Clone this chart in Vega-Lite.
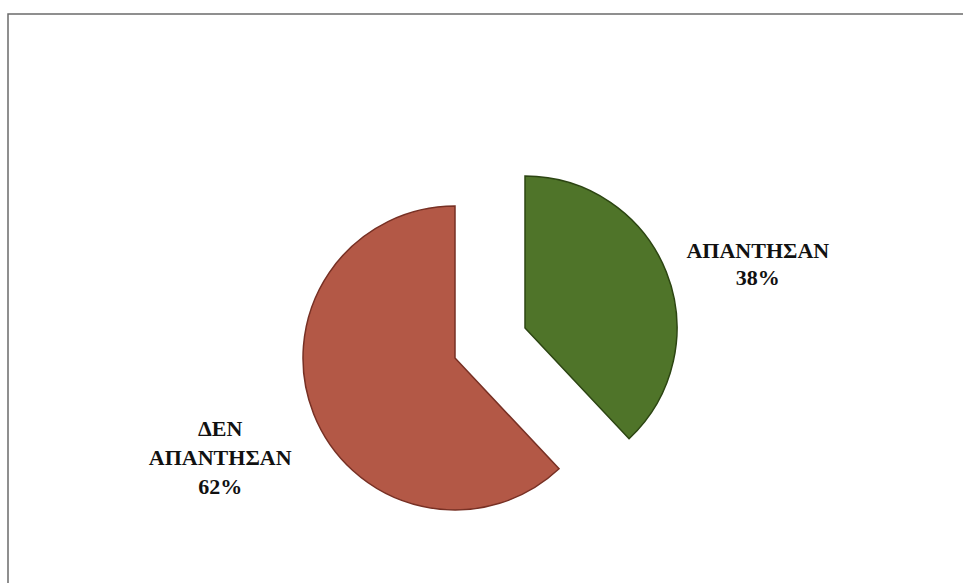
{
  "$schema": "https://vega.github.io/schema/vega-lite/v6.json",
  "autosize": {"type": "none"},
  "width": 964,
  "height": 658,
  "padding": {"left": 8, "top": 14, "right": 0, "bottom": 0},
  "background": "#ffffff",
  "view": {"stroke": "#6b6b6b", "strokeWidth": 1.5},
  "data": {
    "values": [
      {"cat": "ΑΠΑΝΤΗΣΑΝ", "pct": 38, "label": "ΑΠΑΝΤΗΣΑΝ\n38%"},
      {"cat": "ΔΕΝ ΑΠΑΝΤΗΣΑΝ", "pct": 62, "label": "ΔΕΝ\nΑΠΑΝΤΗΣΑΝ\n62%"}
    ]
  },
  "encoding": {
    "theta": {"field": "pct", "type": "quantitative", "stack": true},
    "order": {"field": "pct", "type": "quantitative", "sort": "ascending"}
  },
  "layer": [
    {
      "mark": {"type": "arc", "outerRadius": 152, "fill": "#4f7429", "stroke": "#2c4512", "strokeWidth": 1.5, "xOffset": 35, "yOffset": -15},
      "encoding": {
        "opacity": {"condition": {"test": "datum.cat === 'ΑΠΑΝΤΗΣΑΝ'", "value": 1}, "value": 0}
      }
    },
    {
      "mark": {"type": "arc", "outerRadius": 152, "fill": "#b35846", "stroke": "#773024", "strokeWidth": 1.5, "xOffset": -35, "yOffset": 15},
      "encoding": {
        "opacity": {"condition": {"test": "datum.cat === 'ΔΕΝ ΑΠΑΝΤΗΣΑΝ'", "value": 1}, "value": 0}
      }
    },
    {
      "mark": {"type": "text", "radius": 245, "font": "'Liberation Serif', 'DejaVu Serif', serif", "fontWeight": "bold", "fontSize": 22, "lineHeight": 27, "lineBreak": "\n", "align": "center", "baseline": "middle", "fill": "#111111", "xOffset": 40, "yOffset": -2},
      "encoding": {
        "text": {"field": "label"},
        "opacity": {"condition": {"test": "datum.cat === 'ΑΠΑΝΤΗΣΑΝ'", "value": 1}, "value": 0}
      }
    },
    {
      "mark": {"type": "text", "radius": 245, "font": "'Liberation Serif', 'DejaVu Serif', serif", "fontWeight": "bold", "fontSize": 22, "lineHeight": 29, "lineBreak": "\n", "align": "center", "baseline": "middle", "fill": "#111111", "xOffset": -42, "yOffset": -4},
      "encoding": {
        "text": {"field": "label"},
        "opacity": {"condition": {"test": "datum.cat === 'ΔΕΝ ΑΠΑΝΤΗΣΑΝ'", "value": 1}, "value": 0}
      }
    }
  ]
}
